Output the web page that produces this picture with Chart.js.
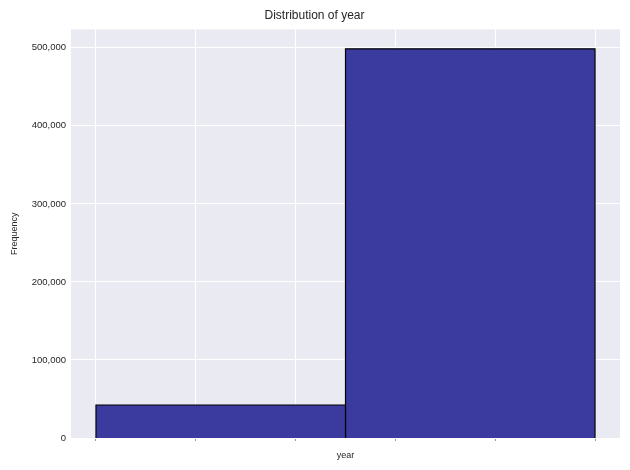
<!DOCTYPE html>
<html>
<head>
<meta charset="utf-8">
<script src="https://cdn.jsdelivr.net/npm/chart.js@4"></script>
<style>
  html, body { margin: 0; padding: 0; background: #ffffff; }
  #wrap { width: 630px; height: 470px; }
</style>
</head>
<body>
<div id="wrap"><canvas id="myChart"></canvas></div>
<script>
'use strict';

// Data
let binEdges = [0, 2.5, 5];
let binCounts = [42300, 498700];
let xTicks = [0, 1, 2, 3, 4, 5];
let yTicks = [0, 100000, 200000, 300000, 400000, 500000];

// Build one closed rectangle per bin
let datasets = [];
for (let i = 0; i < binCounts.length; i++) {
  datasets.push({
    data: [
      { x: binEdges[i], y: 0 },
      { x: binEdges[i], y: binCounts[i] },
      { x: binEdges[i + 1], y: binCounts[i] },
      { x: binEdges[i + 1], y: 0 }
    ],
    showLine: true,
    fill: 'origin',
    backgroundColor: '#3a3a9f',
    borderColor: '#000000',
    borderWidth: 1.2,
    pointRadius: 0,
    tension: 0
  });
}

// Plot area background
const areaBg = {
  id: 'areaBg',
  beforeDraw(chart) {
    let a = chart.chartArea;
    let ctx = chart.ctx;
    ctx.save();
    ctx.fillStyle = '#eaeaf2';
    ctx.fillRect(a.left, a.top, a.right - a.left, a.bottom - a.top);
    ctx.restore();
  }
};

Chart.defaults.font.family = '"Liberation Sans", Arial, sans-serif';
Chart.defaults.color = '#262626';

let ctx = document.getElementById('myChart').getContext('2d');
let myChart = new Chart(ctx, {
  type: 'scatter',
  data: { datasets: datasets },
  plugins: [areaBg],
  options: {
    responsive: true,
    maintainAspectRatio: false,
    animation: false,
    layout: { padding: { left: 9, right: 10, top: 0, bottom: 9 } },
    plugins: {
      legend: { display: false },
      tooltip: { enabled: false },
      title: {
        display: true,
        text: 'Distribution of year',
        color: '#262626',
        font: { size: 12, weight: 'normal' },
        padding: { top: 8, bottom: 7 }
      }
    },
    scales: {
      x: {
        type: 'linear',
        min: -0.25,
        max: 5.25,
        afterBuildTicks: s => { s.ticks = xTicks.map(v => ({ value: v })); },
        afterFit: s => { s.height = 23; },
        ticks: { callback: () => '', padding: 0 },
        grid: { color: '#ffffff', lineWidth: 1, drawTicks: true, tickLength: 3, tickColor: '#9a9a9a' },
        border: { display: false },
        title: { display: true, text: 'year', font: { size: 9 }, padding: { top: 6, bottom: 0 } }
      },
      y: {
        min: 0,
        max: 523600,
        afterBuildTicks: s => { s.ticks = yTicks.map(v => ({ value: v })); },
        afterFit: s => { s.width = 62; },
        ticks: {
          font: { size: 9.5 },
          padding: 5,
          callback: v => v.toLocaleString('en-US')
        },
        grid: { color: '#ffffff', lineWidth: 1, drawTicks: false },
        border: { display: false },
        title: { display: true, text: 'Frequency', font: { size: 9 }, padding: { top: 0, bottom: 4 } }
      }
    }
  }
});
</script>
</body>
</html>
